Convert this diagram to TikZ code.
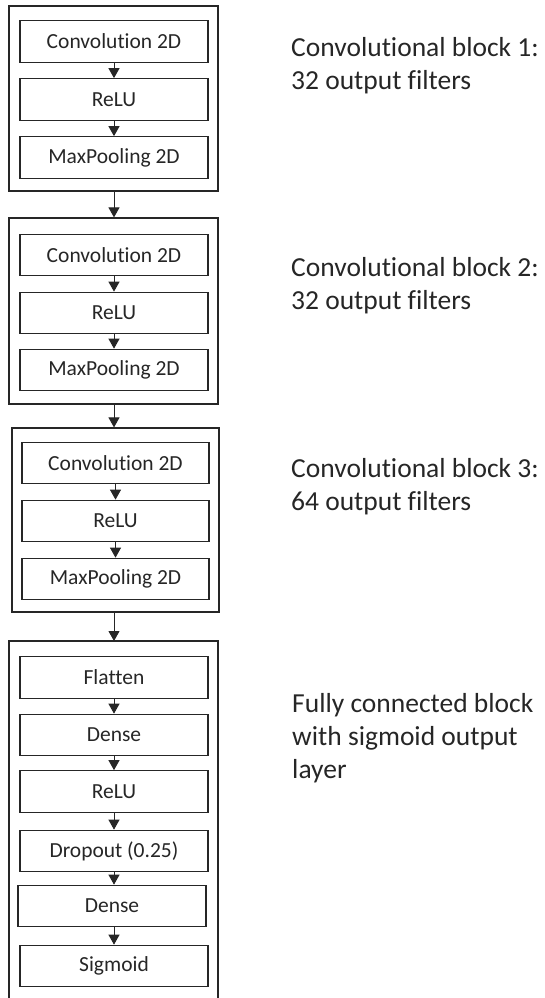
\documentclass[tikz,border=0pt]{standalone}
\usepackage{fontspec}
\setmainfont{Carlito}[RawFeature={-liga;-clig;-calt;-dlig}]
\usetikzlibrary{arrows.meta}
\begin{document}
\begin{tikzpicture}[x=1pt,y=-1pt,
  layer/.style={draw=black!85, line width=1.2pt, minimum width=188pt, minimum height=41.5pt, inner sep=0pt, font=\fontsize{21.5}{26}\selectfont, text=black!85},
  blockbox/.style={draw=black!85, line width=1.2pt, inner sep=0pt},
  flow/.style={draw=black!85, line width=1pt, -{Triangle[width=11pt,length=10pt]}},
  note/.style={anchor=base west, align=left, inner sep=0pt, font=\fontsize{27.5}{33}\selectfont, text=black!85}]
\useasboundingbox (0,0) rectangle (544,998);
% outer blocks
\node[blockbox, minimum width=209pt, minimum height=185pt] (b1) at (113.5,98.5) {};
\node[blockbox, minimum width=209pt, minimum height=186pt] (b2) at (113.5,311) {};
\node[blockbox, minimum width=207pt, minimum height=184pt] (b3) at (115.5,520) {};
\coordinate (b4l) at (9,1002);
\coordinate (b4r) at (218,1002);
\coordinate (b4top) at (114,641);
\draw[blockbox] (b4l) |- (b4r |- b4top) -- (b4r);
% block 1
\node[layer] (c1) at (114,41.5) {Convolution 2D};
\node[layer] (r1) at (114,99.5) {ReLU};
\node[layer] (m1) at (114,157.5) {MaxPooling 2D};
% block 2
\node[layer] (c2) at (114,255) {Convolution 2D};
\node[layer] (r2) at (114,313) {ReLU};
\node[layer] (m2) at (114,370) {MaxPooling 2D};
% block 3
\node[layer, minimum width=187pt] (c3) at (115.5,463) {Convolution 2D};
\node[layer, minimum width=187pt] (r3) at (115.5,521) {ReLU};
\node[layer, minimum width=187pt] (m3) at (115.5,579) {MaxPooling 2D};
% block 4
\node[layer] (fl) at (114,677.5) {Flatten};
\node[layer] (d1) at (114,735) {Dense};
\node[layer] (r4) at (114,791.5) {ReLU};
\node[layer] (dr) at (114,851) {Dropout (0.25)};
\node[layer] (d2) at (112,906) {Dense};
\node[layer] (sg) at (114,966) {Sigmoid};
% arrows inside blocks
\draw[flow] (c1) -- (r1);
\draw[flow] (r1) -- (m1);
\draw[flow] (c2) -- (r2);
\draw[flow] (r2) -- (m2);
\draw[flow] (c3) -- (r3);
\draw[flow] (r3) -- (m3);
\draw[flow] (fl) -- (d1);
\draw[flow] (d1) -- (r4);
\draw[flow] (r4) -- (dr);
\draw[flow] (dr.south) -- (dr.south |- d2.north);
\draw[flow] (d2.south -| sg.north) -- (sg.north);
% arrows between blocks
\draw[flow] (b1.south -| c1.south) -- (b2.north -| c1.south);
\draw[flow] (b2.south -| c2.south) -- (b3.north -| c2.south);
\draw[flow] (b3.south -| c2.south) -- (b4top);
% descriptions
\node[note] (t1) at (291,89) {Convolutional block 1:\\32 output filters};
\node[note] (t2) at (291,309) {Convolutional block 2:\\32 output filters};
\node[note] (t3) at (291,510) {Convolutional block 3:\\64 output filters};
\node[note] (t4) at (292,778) {Fully connected block\\with sigmoid output\\layer};
\end{tikzpicture}
\end{document}
